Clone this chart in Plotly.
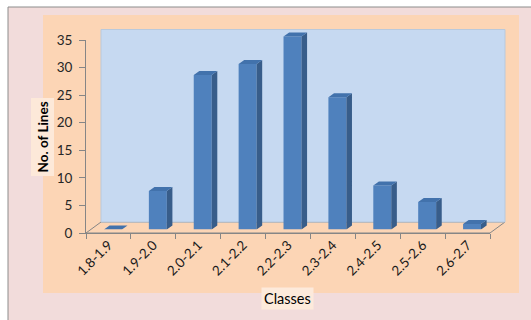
import plotly.graph_objects as go

classes = ["1.8-1.9", "1.9-2.0", "2.0-2.1", "2.1-2.2", "2.2-2.3",
           "2.3-2.4", "2.4-2.5", "2.5-2.6", "2.6-2.7"]
counts = [0, 7, 28, 30, 35, 24, 8, 5, 1]
y_ticks = [0, 5, 10, 15, 20, 25, 30, 35]

W, H = 531, 320
def px(x): return x / W
def py(y): return 1 - y / H

# layout geometry (pixels)
X0, X1 = 86, 490          # front axis extent
Y0, YT = 233, 40          # value 0 and value 35 (front)
UNIT = (Y0 - YT) / 35.0   # px per unit
CAT = (X1 - X0) / len(classes)
WDX, WDY = 15, 11         # back-wall offset
BDX, BDY = 4.5, 3.5       # bar-row offset
SX, SY = 5.6 / CAT, 4.0 / UNIT  # bar depth in data units
HW = 0.2
Y2MAX = 40

PINK = "#f2dcdb"
PEACH = "#fcd5b5"
WALL = "#c6d9f1"
FRONT = "#4f81bd"
SIDE = "#385d8a"
TOP = "#4272ac"
GRAY = "#868686"

fig = go.Figure()

# invisible trace to establish category axis
fig.add_trace(go.Scatter(x=classes, y=counts, mode="none", hoverinfo="skip",
                         showlegend=False, xaxis="x", yaxis="y"))

idx = list(range(len(classes)))
fig.add_trace(go.Bar(x=idx, y=counts, width=2 * HW, marker=dict(color=FRONT, line=dict(width=0)),
                     xaxis="x2", yaxis="y2", showlegend=False))

sx, sy, tx, ty = [], [], [], []
for i, v in zip(idx, counts):
    sx += [i + HW, i + HW + SX, i + HW + SX, i + HW, i + HW, None]
    sy += [0, SY, v + SY, v, 0, None]
    tx += [i - HW, i + HW, i + HW + SX, i - HW + SX, i - HW, None]
    ty += [v, v, v + SY, v + SY, v, None]
fig.add_trace(go.Scatter(x=sx, y=sy, fill="toself", fillcolor=SIDE, mode="lines",
                         line=dict(width=0, color=SIDE), xaxis="x2", yaxis="y2",
                         hoverinfo="skip", showlegend=False))
fig.add_trace(go.Scatter(x=tx, y=ty, fill="toself", fillcolor=TOP, mode="lines",
                         line=dict(width=0, color=TOP), xaxis="x2", yaxis="y2",
                         hoverinfo="skip", showlegend=False))

shapes = [
    dict(type="rect", xref="paper", yref="paper", x0=px(8), x1=1, y0=0, y1=py(7),
         fillcolor=PINK, line=dict(width=0), layer="below"),
    dict(type="line", xref="paper", yref="paper", x0=px(8), x1=px(8), y0=0, y1=py(7),
         line=dict(color="#8c8c8c", width=1), layer="below"),
    dict(type="line", xref="paper", yref="paper", x0=px(8), x1=1, y0=py(7), y1=py(7),
         line=dict(color="#8c8c8c", width=1), layer="below"),
    dict(type="rect", xref="paper", yref="paper", x0=px(43), x1=px(519), y0=py(293), y1=py(15),
         fillcolor=PEACH, line=dict(width=0), layer="below"),
    dict(type="path", xref="paper", yref="paper",
         path=f"M {px(X0)} {py(Y0)} L {px(X1)} {py(Y0)} L {px(X1 + WDX)} {py(Y0 - WDY)} L {px(X0 + WDX)} {py(Y0 - WDY)} Z",
         fillcolor=PEACH, line=dict(color=GRAY, width=1), layer="below"),
    dict(type="rect", xref="paper", yref="paper", x0=px(X0 + WDX), x1=px(X1 + WDX),
         y0=py(Y0 - WDY), y1=py(YT - WDY + 0.5),
         fillcolor=WALL, line=dict(color="#b9c9dc", width=1), layer="below"),
]

fig.update_layout(
    width=W, height=H, margin=dict(l=0, r=0, t=0, b=0, autoexpand=False),
    paper_bgcolor="white", plot_bgcolor="rgba(0,0,0,0)",
    font=dict(family="Lato", color="#262626"),
    showlegend=False, shapes=shapes,
    xaxis=dict(type="category", domain=[px(X0), px(X1)], range=[-0.5, len(classes) - 0.5],
               tickson="boundaries", ticks="outside", ticklen=5, tickcolor=GRAY,
               showline=True, linecolor=GRAY, showgrid=False, tickangle=-45, automargin=False,
               ticklabelstandoff=-2,
               tickfont=dict(size=13.5, color="#1a1a1a"), anchor="y", fixedrange=True),
    yaxis=dict(domain=[py(Y0), py(YT)], range=[0, 35], tickvals=y_ticks, automargin=False,
               ticks="outside", ticklen=6, tickcolor=GRAY, showline=True, linecolor=GRAY,
               showgrid=False, zeroline=False, ticklabelstandoff=4,
               tickfont=dict(size=13.5, color="#262626"), anchor="x", fixedrange=True),
    xaxis2=dict(domain=[px(X0 + BDX), px(X1 + BDX)], range=[-0.5, len(classes) - 0.5],
                visible=False, anchor="y2", fixedrange=True, automargin=False),
    yaxis2=dict(domain=[py(Y0 - BDY), py(Y0 - BDY - Y2MAX * UNIT)], range=[0, Y2MAX],
                visible=False, anchor="x2", fixedrange=True, automargin=False),
    annotations=[
        dict(text="<b>No. of Lines</b>", xref="paper", yref="paper", x=px(42.5), y=py(137),
             xanchor="center", yanchor="middle",
             textangle=-90, showarrow=False, bgcolor="#fde9d9",
             font=dict(size=13.5, color="black"), borderpad=3),
        dict(text="Classes", xref="paper", yref="paper", x=px(287), y=py(298),
             xanchor="center", yanchor="middle",
             showarrow=False, bgcolor="#fdeadb", font=dict(size=14.5, color="black"), borderpad=2),
    ],
)

fig.write_html("out.html")
